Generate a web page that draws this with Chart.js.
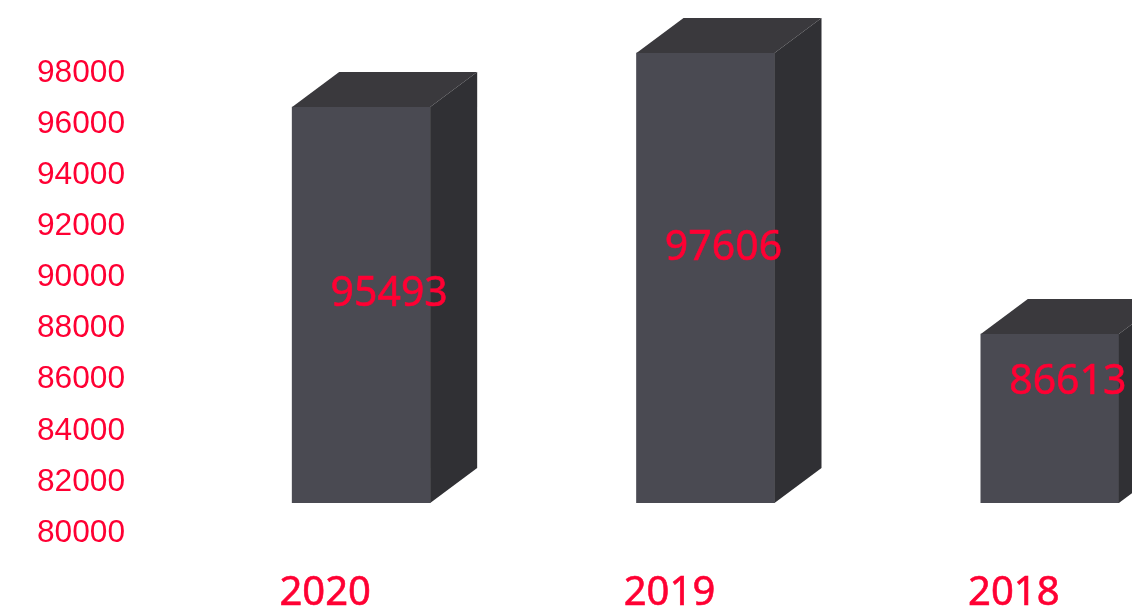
<!DOCTYPE html>
<html>
<head>
<meta charset="utf-8">
<script src="https://cdn.jsdelivr.net/npm/chart.js@4/dist/chart.umd.min.js"></script>
<style>
    html, body { margin: 0; padding: 0; background: #fff; overflow: hidden; }
    #wrap { width: 1132px; height: 615px; overflow: hidden; }
    canvas { display: block; }
</style>
</head>
<body>
<div id="wrap"><canvas id="chart" width="1240" height="615"></canvas></div>
<script>
const years = ['2020', '2019', '2018'];
const totals = [95493, 97606, 86613];
const axisMin = 80000;
const axisMax = 98000;
const axisStep = 2000;

const RED = '#ff0033';

// Box shading and depth of the extruded bars
const box = {
    top: '#3a393d',
    side: '#303034',
    dx: 47,
    dy: -35,
};

// Hand-placed value labels, relative to the middle of the front face
const valueLabelShift = [
    { x: 28, y: -11 },
    { x: 18, y: -30 },
    { x: 18, y: -36 },
];

// Draws the top and side faces behind each bar
const boxFacesPlugin = {
    id: 'boxFaces',
    afterDatasetsDraw: (chart) => {
        const ctx = chart.ctx;
        const meta = chart.getDatasetMeta(0);

        meta.data.forEach((bar) => {
            const { x, y, base, width } = bar.getProps(['x', 'y', 'base', 'width'], true);
            const left = x - width / 2;
            const right = x + width / 2;

            ctx.save();
            ctx.fillStyle = box.top;
            ctx.beginPath();
            ctx.moveTo(left, y);
            ctx.lineTo(left + box.dx, y + box.dy);
            ctx.lineTo(right + box.dx, y + box.dy);
            ctx.lineTo(right, y);
            ctx.closePath();
            ctx.fill();

            ctx.fillStyle = box.side;
            ctx.beginPath();
            ctx.moveTo(right, y);
            ctx.lineTo(right + box.dx, y + box.dy);
            ctx.lineTo(right + box.dx, base + box.dy);
            ctx.lineTo(right, base);
            ctx.closePath();
            ctx.fill();
            ctx.restore();
        });
    },
};

// Axis text sits away from the scale positions, so it is drawn here from the scale ticks
const axisTextPlugin = {
    id: 'axisText',
    afterDraw: (chart) => {
        const ctx = chart.ctx;
        const yScale = chart.scales.y;
        const xScale = chart.scales.x;

        // The Noto labels get a hairline stroke to thicken them a little
        const heavyText = (text, x, y) => {
            ctx.fillText(text, x, y);
            ctx.strokeText(text, x, y);
        };

        ctx.save();
        ctx.fillStyle = RED;
        ctx.strokeStyle = RED;
        ctx.lineWidth = 0.6;
        ctx.textBaseline = 'middle';

        ctx.font = '31.7px Arial, "Liberation Sans", sans-serif';
        ctx.textAlign = 'right';
        yScale.ticks.forEach((tick) => {
            ctx.fillText(tick.label, 125, yScale.getPixelForValue(tick.value) + 30);
        });

        ctx.font = '40px "Noto Sans"';
        ctx.textAlign = 'center';
        xScale.ticks.forEach((tick, index) => {
            heavyText(years[index], xScale.getPixelForTick(index) - 36, 594);
        });

        ctx.font = '41px "Noto Sans"';
        const meta = chart.getDatasetMeta(0);
        meta.data.forEach((bar, index) => {
            const { x, y, base } = bar.getProps(['x', 'y', 'base'], true);
            const shift = valueLabelShift[index];
            heavyText(totals[index], x + shift.x, (y + base) / 2 + shift.y);
        });
        ctx.restore();
    },
};

new Chart(document.getElementById('chart').getContext('2d'), {
    type: 'bar',
    data: {
        labels: years,
        datasets: [
            {
                data: totals,
                base: axisMin,
                backgroundColor: '#4a4a52',
                borderWidth: 0,
                barThickness: 138,
            },
        ],
    },
    options: {
        responsive: false,
        animation: false,
        layout: {
            padding: { left: 189, right: 18, top: 43, bottom: 112 },
        },
        plugins: {
            legend: { display: false },
            tooltip: { enabled: false },
            title: { display: false },
        },
        scales: {
            x: {
                display: false,
            },
            y: {
                display: false,
                min: axisMin,
                max: axisMax,
                ticks: {
                    stepSize: axisStep,
                    callback: (value) => String(value),
                },
            },
        },
    },
    plugins: [boxFacesPlugin, axisTextPlugin],
});
</script>
</body>
</html>
